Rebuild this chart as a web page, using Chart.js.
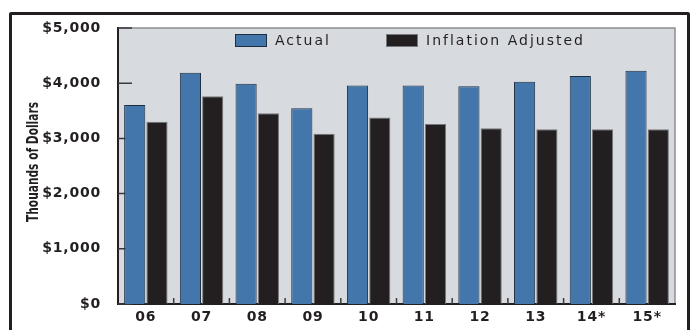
<!DOCTYPE html>
<html>
<head>
<meta charset="utf-8">
<script src="https://cdn.jsdelivr.net/npm/chart.js@4"></script>
<style>
	body { margin: 0; background: #fff; }
	#wrap { position: relative; width: 699px; height: 330px; overflow: hidden; }
	#frame { position: absolute; left: 9px; top: 12px; width: 675px; height: 340px; border: 3px solid #231f20; border-radius: 2px; }
	canvas { position: absolute; left: 0; top: 0; }
</style>
</head>
<body>
<div id="wrap">
	<div id="frame"></div>
	<canvas id="spendChart" width="699" height="330"></canvas>
</div>
<script>
// fiscal years ( * = estimate )
var years = ['06', '07', '08', '09', '10', '11', '12', '13', '14*', '15*'];
var actual = [3605, 4190, 3990, 3545, 3960, 3960, 3945, 4025, 4130, 4225];
var inflationAdjusted = [3300, 3765, 3455, 3085, 3380, 3260, 3185, 3165, 3165, 3165];
var yTicks = [0, 1000, 2000, 3000, 4000, 5000];
var axisTitle = 'Thouands of Dollars';

var ink = '#231f20';
var spacing = '0.8px';

var framePlugin = {
	id: 'framePlugin',
	beforeUpdate: function (chart) { chart.ctx.letterSpacing = spacing; },
	beforeLayout: function (chart) { chart.ctx.letterSpacing = spacing; },
	beforeDraw: function (chart) {
		var ctx = chart.ctx;
		var a = chart.chartArea;
		ctx.letterSpacing = spacing;
		ctx.save();
		ctx.fillStyle = '#d7dbdf';
		ctx.fillRect(a.left, a.top, a.right - a.left, a.bottom - a.top);
		ctx.strokeStyle = '#8d8f92';
		ctx.lineWidth = 1.5;
		ctx.beginPath();
		ctx.moveTo(a.left, a.top);
		ctx.lineTo(a.right, a.top);
		ctx.lineTo(a.right, a.bottom);
		ctx.stroke();
		ctx.restore();
	},
	beforeDatasetsDraw: function (chart) {
		var ctx = chart.ctx;
		var a = chart.chartArea;
		var y = chart.scales.y;
		var x = chart.scales.x;
		ctx.save();
		ctx.strokeStyle = '#3a3a3c';
		ctx.lineWidth = 1.5;
		ctx.beginPath();
		yTicks.forEach(function (v) {
			var py = y.getPixelForValue(v);
			ctx.moveTo(a.left, py);
			ctx.lineTo(a.left + 14, py);
		});
		for (var i = 1; i < years.length; i++) {
			var px = (x.getPixelForValue(i - 1) + x.getPixelForValue(i)) / 2;
			ctx.moveTo(px, a.bottom);
			ctx.lineTo(px, a.bottom - 6);
		}
		ctx.stroke();
		ctx.restore();
	},
	afterDraw: function (chart) {
		var ctx = chart.ctx;
		var a = chart.chartArea;
		ctx.save();
		// legend inside the plot
		var items = chart.data.datasets;
		var boxX = [a.left + 117, a.left + 268];
		ctx.font = '14px "DejaVu Sans", sans-serif';
		ctx.textBaseline = 'middle';
		ctx.letterSpacing = '2px';
		items.forEach(function (ds, i) {
			ctx.fillStyle = ds.backgroundColor;
			ctx.fillRect(boxX[i], a.top + 6, 32, 13);
			ctx.strokeStyle = ds.borderColor;
			ctx.lineWidth = 1;
			ctx.strokeRect(boxX[i] + 0.5, a.top + 6.5, 31, 12);
			ctx.fillStyle = ink;
			ctx.fillText(ds.label, boxX[i] + 40, a.top + 13);
		});
		// y axis title, squeezed to look condensed
		ctx.letterSpacing = '0px';
		ctx.font = 'bold 16px "Liberation Sans Narrow", "DejaVu Sans Condensed", sans-serif';
		ctx.textAlign = 'center';
		var squeeze = 120 / ctx.measureText(axisTitle).width;
		ctx.translate(34, 162);
		ctx.rotate(-Math.PI / 2);
		ctx.scale(squeeze, 1);
		ctx.fillText(axisTitle, 0, 0);
		ctx.restore();
		ctx.letterSpacing = spacing;
	}
};

var ctx = document.getElementById('spendChart').getContext('2d');
var myChart = new Chart(ctx, {
	type: 'bar',
	data: {
		labels: years,
		datasets: [{
			label: 'Actual',
			data: actual,
			backgroundColor: '#4376aa',
			borderColor: '#1f2e40',
			borderWidth: 1
		}, {
			label: 'Inflation Adjusted',
			data: inflationAdjusted,
			backgroundColor: '#231f20',
			borderColor: '#77787b',
			borderWidth: 1
		}]
	},
	options: {
		responsive: false,
		animation: false,
		categoryPercentage: 0.8,
		barPercentage: 0.95,
		layout: {
			padding: { left: 0, right: 24, top: 28, bottom: 0 }
		},
		scales: {
			y: {
				min: 0,
				max: 5000,
				afterFit: function (scale) { scale.width = 118; },
				afterBuildTicks: function (scale) {
					scale.ticks = yTicks.map(function (v) { return { value: v }; });
				},
				grid: { display: false },
				border: { color: ink, width: 2 },
				ticks: {
					color: ink,
					padding: 9,
					font: { family: '"DejaVu Sans", sans-serif', size: 14, weight: 'bold' },
					callback: function (v) { return '$' + v.toLocaleString('en-US'); }
				}
			},
			x: {
				afterFit: function (scale) { scale.height = 26; },
				grid: { display: false },
				border: { color: ink, width: 2 },
				ticks: {
					color: ink,
					padding: -3,
					maxRotation: 0,
					font: { family: '"DejaVu Sans", sans-serif', size: 14, weight: 'bold' }
				}
			}
		},
		plugins: {
			legend: { display: false },
			tooltip: { enabled: false }
		}
	},
	plugins: [framePlugin]
});
</script>
</body>
</html>
